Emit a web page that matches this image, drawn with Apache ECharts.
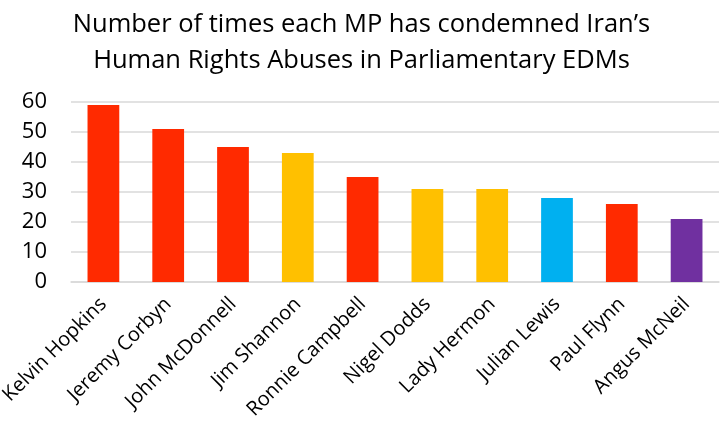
<!DOCTYPE html>
<html><head><meta charset="utf-8">
<script src="https://cdn.jsdelivr.net/npm/echarts@6/dist/echarts.min.js"></script>
<style>html,body{margin:0;padding:0;background:#fff}#c{width:723px;height:422px}</style>
</head><body><div id="c"></div>
<script>
const titleText = "Number of times each MP has condemned Iran\u2019s\nHuman Rights Abuses in Parliamentary EDMs";
const categories = ["Kelvin Hopkins","Jeremy Corbyn","John McDonnell","Jim Shannon","Ronnie Campbell","Nigel Dodds","Lady Hermon","Julian Lewis","Paul Flynn","Angus McNeil"];
const values = [59, 51, 45, 43, 35, 31, 31, 28, 26, 21];
const barColors = ["#FF2A00","#FF2A00","#FF2A00","#FFC000","#FF2A00","#FFC000","#FFC000","#00B0F0","#FF2A00","#7030A0"];
const yTicks = [0, 10, 20, 30, 40, 50, 60];

const chart = echarts.init(document.getElementById('c'), null, {renderer: 'canvas'});
chart.setOption({
  animation: false,
  backgroundColor: '#fff',
  title: {
    text: titleText, left: 'center', top: 2,
    textStyle: {fontFamily: 'Open Sans', fontSize: 25.5, fontWeight: 'normal', color: '#000', lineHeight: 36}
  },
  grid: {left: 71, right: 4, top: 102, bottom: 140, outerBoundsMode: 'none', containLabel: false},
  xAxis: {
    type: 'category', data: categories,
    axisLine: {show: true, lineStyle: {color: '#d9d9d9', width: 1.5}},
    axisTick: {show: false},
    axisLabel: {rotate: 45, interval: 0, fontFamily: 'Open Sans', fontSize: 20, color: '#000', margin: 19}
  },
  yAxis: {
    type: 'value', min: yTicks[0], max: yTicks[yTicks.length - 1], interval: 10,
    axisLine: {show: false}, axisTick: {show: false},
    splitLine: {lineStyle: {color: '#d9d9d9', width: 1.5}},
    axisLabel: {fontFamily: 'Open Sans', fontSize: 22, color: '#000', margin: 24}
  },
  series: [{
    type: 'bar', barWidth: '49%',
    data: values.map((v, i) => ({value: v, itemStyle: {color: barColors[i]}}))
  }]
});
</script></body></html>
